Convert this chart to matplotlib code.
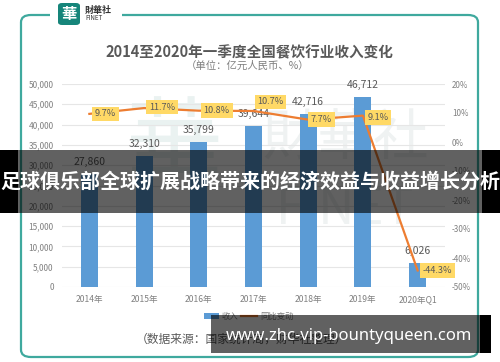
import matplotlib
matplotlib.use("Agg")
import matplotlib.pyplot as plt
from matplotlib.patches import FancyBboxPatch, Rectangle
import numpy as np

plt.rcParams['font.family'] = ['Noto Sans CJK SC', 'DejaVu Sans']

categories = ["2014年", "2015年", "2016年", "2017年", "2018年", "2019年", "2020年Q1"]
revenue = [27860, 32310, 35799, 39644, 42716, 46712, 6026]
yoy = [9.7, 11.7, 10.8, 10.7, 7.7, 9.1, -44.3]
left_ticks = [0, 5000, 10000, 15000, 20000, 25000, 30000, 35000, 40000, 45000, 50000]
right_ticks = [-50, -40, -30, -20, -10, 0, 10, 20]

W, H = 500, 362
fig = plt.figure(figsize=(5, 3.62), dpi=100)
fig.patch.set_facecolor("white")

def fx(px):
    return px / W

def fy(py):
    return 1 - py / H

# outer rounded frame
frame = FancyBboxPatch((fx(21), fy(357)), fx(478) - fx(21), fy(15) - fy(357),
                       boxstyle="round,pad=0,rounding_size=0.02",
                       transform=fig.transFigure, fill=False,
                       edgecolor="#3FA99E", linewidth=1.6, zorder=1)
fig.patches.append(frame)
# gap for logo
fig.patches.append(Rectangle((fx(50), fy(30)), fx(72), fy(0) - fy(30), transform=fig.transFigure,
                             facecolor="white", edgecolor="none", zorder=2))
# logo
logo = FancyBboxPatch((fx(58), fy(25)), fx(22), fy(3) - fy(25),
                      boxstyle="round,pad=0,rounding_size=0.008",
                      transform=fig.transFigure, facecolor="#16857A", edgecolor="none", zorder=3)
fig.patches.append(logo)
fig.text(fx(69), fy(14), "華", color="white", fontsize=11, ha="center", va="center",
         fontweight="bold", zorder=4)
fig.text(fx(85), fy(10), "財華社", color="#333333", fontsize=6.5, ha="left", va="center",
         fontweight="bold", zorder=4)
fig.text(fx(85), fy(18), "FINET", color="#333333", fontsize=4.5, ha="left", va="center", zorder=4)

# watermark
fig.text(fx(345), fy(140), "財華社", color="#EFF2F2", fontsize=40, ha="center", va="center", zorder=1.5)
fig.text(fx(345), fy(210), "FINET", color="#EFF2F2", fontsize=36, ha="center", va="center", zorder=1.5)
fig.text(fx(175), fy(150), "華", color="#EAF2F1", fontsize=70, ha="center", va="center", zorder=1.5)

# titles
fig.text(fx(249), fy(52), "2014至2020年一季度全国餐饮行业收入变化", color="#595959",
         fontsize=10.5, fontweight="bold", ha="center", va="center")
fig.text(fx(248), fy(66), "（单位：亿元人民币、%）", color="#7F7F7F",
         fontsize=7.5, ha="center", va="center")

ax = fig.add_axes([fx(62), fy(287), fx(445) - fx(62), fy(84) - fy(287)])
ax.set_facecolor("none")
ax.set_zorder(3)
x = np.arange(len(categories))
bars = ax.bar(x, revenue, width=0.31, color="#5B9BD5", zorder=3)
ax.set_xlim(-0.5, 6.5)
ax.set_ylim(0, 50000)
ax.set_yticks(left_ticks)
ax.set_yticklabels([f"{v:,}" for v in left_ticks])
ax.yaxis.grid(True, color="#E6E6E6", linewidth=0.8, zorder=0)
ax.set_axisbelow(True)
for s in ax.spines.values():
    s.set_visible(False)
ax.tick_params(axis="y", length=0, labelsize=6, labelcolor="#808080", pad=6)
ax.set_xticks(x)
ax.set_xticklabels(categories)
ax.tick_params(axis="x", length=0, labelsize=6.2, labelcolor="#808080", pad=6)
for xi, v in zip(x, revenue):
    ax.annotate(f"{v:,}", (xi, v), xytext=(0, 5), textcoords="offset points",
                ha="center", va="bottom", fontsize=7.5, color="#595959", zorder=4)

ax2 = ax.twinx()
ax2.set_ylim(-50, 20)
ax2.set_yticks(right_ticks)
ax2.set_yticklabels([f"{v}%" for v in right_ticks])
for s in ax2.spines.values():
    s.set_visible(False)
ax2.tick_params(axis="y", length=0, labelsize=5.8, labelcolor="#808080", pad=5)
ax2.plot(x, yoy, color="#ED7D31", linewidth=1.6, zorder=5)
offsets = [(16, 0), (18, 1), (18, 0), (17, 9), (13, 0), (15, -2), (20, 0)]
for xi, v, (dx, dy) in zip(x, yoy, offsets):
    ax2.annotate(f"{v}%", (xi, v), xytext=(dx, dy), textcoords="offset pixels",
                 ha="center", va="center", fontsize=6.6, color="#595959", zorder=6,
                 bbox=dict(boxstyle="square,pad=0.3", facecolor="#FFD966", edgecolor="none"))

# legend
fig.patches.append(Rectangle((fx(204), fy(319)), fx(15), fy(313) - fy(319), transform=fig.transFigure,
                             facecolor="#5B9BD5", edgecolor="none"))
fig.text(fx(222), fy(316), "收入", fontsize=6, color="#808080", ha="left", va="center")
fig.lines.append(plt.Line2D([fx(241), fx(257)], [fy(316), fy(316)], transform=fig.transFigure,
                            color="#ED7D31", linewidth=1.6))
fig.text(fx(260), fy(316), "同比变动", fontsize=6, color="#808080", ha="left", va="center")
fig.text(fx(136), fy(339), "（数据来源：国家统计局，财华社整理）", fontsize=8.5, color="#595959",
         ha="left", va="center")

# overlay banners
fig.patches.append(Rectangle((0, fy(213)), 1, fy(150) - fy(213), transform=fig.transFigure,
                             facecolor="black", alpha=0.62, edgecolor="none", zorder=20))
fig.patches.append(Rectangle((0, fy(213)), fx(18), fy(150) - fy(213), transform=fig.transFigure,
                             facecolor="black", edgecolor="none", zorder=21))
fig.patches.append(Rectangle((fx(482), fy(213)), fx(18), fy(150) - fy(213), transform=fig.transFigure,
                             facecolor="black", edgecolor="none", zorder=21))
fig.text(0.5, fy(181), "足球俱乐部全球扩展战略带来的经济效益与收益增长分析", color="white",
         fontsize=14.4, fontweight="bold", ha="center", va="center", zorder=22)

fig.patches.append(Rectangle((fx(211), fy(353)), fx(480) - fx(211), fy(315) - fy(353),
                             transform=fig.transFigure, facecolor="black", alpha=0.62,
                             edgecolor="none", zorder=20))
fig.patches.append(Rectangle((fx(480), fy(353)), fx(11), fy(315) - fy(353),
                             transform=fig.transFigure, facecolor="black", edgecolor="none", zorder=21))
fig.text(fx(349), fy(336), "www.zhc-vip-bountyqueen.com", color="white", fontsize=12,
         fontweight="bold", ha="center", va="center", zorder=22,
         family=["Noto Sans", "DejaVu Sans"])

fig.savefig("out.png", dpi=100, facecolor="white")
